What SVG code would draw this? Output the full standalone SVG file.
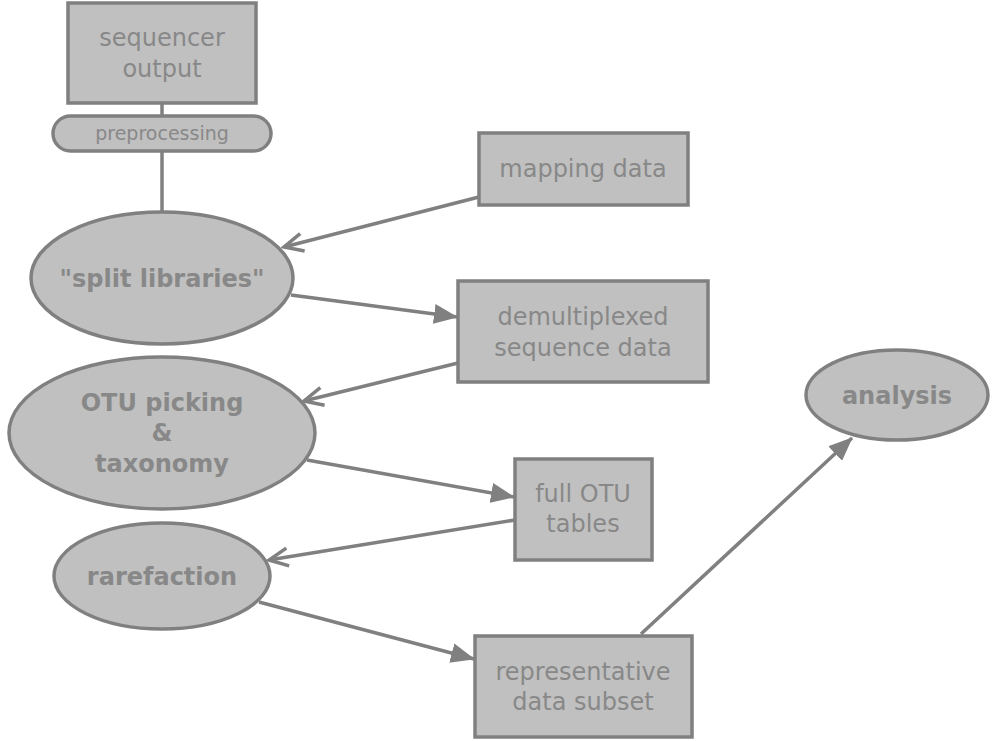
<svg xmlns="http://www.w3.org/2000/svg" width="1000" height="741" viewBox="0 0 1000 741">
<style>
.n{fill:#c0c0c0;stroke:#808080;stroke-width:3.5}
.t{font-family:"DejaVu Sans",sans-serif;font-size:24px;fill:#888888;text-anchor:middle}
.b{font-weight:bold}
.e{stroke:#808080;stroke-width:3.5;fill:none}
</style>
<defs>
<marker id="fa" markerUnits="userSpaceOnUse" viewBox="0 0 24 20" markerWidth="24" markerHeight="20" refX="23" refY="10" orient="auto">
<path d="M0,0 L24,10 L0,20 z" fill="#808080"/>
</marker>
<marker id="oa" markerUnits="userSpaceOnUse" viewBox="0 0 24 24" markerWidth="24" markerHeight="24" refX="21" refY="12" orient="auto">
<path d="M2,3 L21,12 L2,21" fill="none" stroke="#808080" stroke-width="3.5"/>
</marker>
</defs>
<g id="connectors">
<line class="e" x1="162" y1="103" x2="162" y2="116"/>
<line class="e" x1="162" y1="151" x2="162" y2="212"/>
<line class="e" x1="479" y1="197" x2="284" y2="247" marker-end="url(#oa)"/>
<line class="e" x1="291" y1="295" x2="457" y2="317" marker-end="url(#fa)"/>
<line class="e" x1="458" y1="363" x2="304" y2="401" marker-end="url(#oa)"/>
<line class="e" x1="307" y1="460" x2="514" y2="497" marker-end="url(#fa)"/>
<line class="e" x1="515" y1="520" x2="269" y2="560" marker-end="url(#oa)"/>
<line class="e" x1="259" y1="602" x2="474" y2="659" marker-end="url(#fa)"/>
<line class="e" x1="641" y1="634" x2="852" y2="438" marker-end="url(#fa)"/>
</g>
<g id="sequencer">
<rect class="n" x="68" y="3" width="188" height="100"/>
<text class="t" x="162" y="46">sequencer</text>
<text class="t" x="162" y="77">output</text>
</g>
<g id="preprocessing">
<rect class="n" x="53" y="116" width="218" height="35" rx="17.5"/>
<text class="t" x="162" y="140" style="font-size:19px">preprocessing</text>
</g>
<g id="split">
<ellipse class="n" cx="162" cy="278" rx="131" ry="66"/>
<text class="t b" x="162" y="287">"split libraries"</text>
</g>
<g id="mapping">
<rect class="n" x="479" y="133" width="209" height="72"/>
<text class="t" x="583" y="177">mapping data</text>
</g>
<g id="demux">
<rect class="n" x="458" y="281" width="250" height="101"/>
<text class="t" x="583" y="325">demultiplexed</text>
<text class="t" x="583" y="356">sequence data</text>
</g>
<g id="otu">
<ellipse class="n" cx="162" cy="433" rx="153" ry="76"/>
<text class="t b" x="162" y="411">OTU picking</text>
<text class="t b" x="162" y="441">&amp;</text>
<text class="t b" x="162" y="472">taxonomy</text>
</g>
<g id="fullotu">
<rect class="n" x="515" y="459" width="137" height="101"/>
<text class="t" x="583" y="502">full OTU</text>
<text class="t" x="583" y="532">tables</text>
</g>
<g id="rarefaction">
<ellipse class="n" cx="162" cy="576" rx="108" ry="53"/>
<text class="t b" x="162" y="585">rarefaction</text>
</g>
<g id="representative">
<rect class="n" x="475" y="636" width="217" height="101"/>
<text class="t" x="583" y="680">representative</text>
<text class="t" x="583" y="710">data subset</text>
</g>
<g id="analysis">
<ellipse class="n" cx="897" cy="395" rx="91" ry="45"/>
<text class="t b" x="897" y="404">analysis</text>
</g>
</svg>
